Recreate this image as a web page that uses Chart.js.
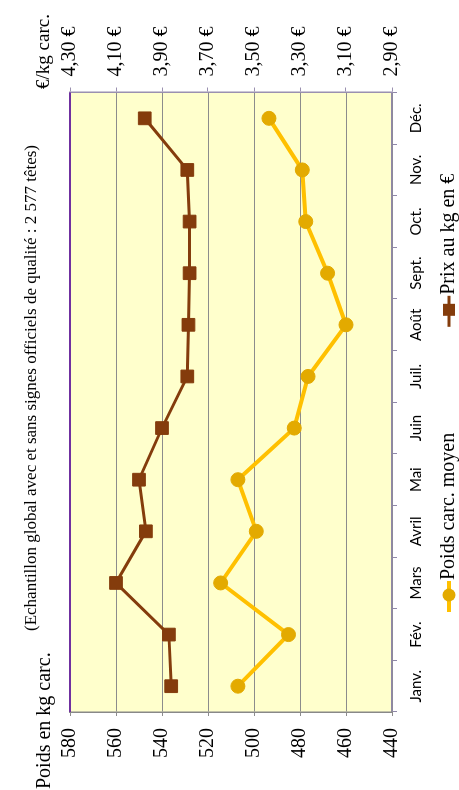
<!DOCTYPE html>
<html><head><meta charset="utf-8">
<script src="https://cdn.jsdelivr.net/npm/chart.js@4"></script>
<style>
html,body{margin:0;padding:0;background:#fff;width:459px;height:790px;overflow:hidden}
#wrap{position:absolute;left:0;top:0;width:790px;height:459px;transform-origin:0 0;transform:translate(0,790px) rotate(-90deg);}
canvas{display:block}
</style></head><body>
<div id="wrap"><canvas id="c" width="790" height="459"></canvas></div>
<script>
// ---- data ----
const months = ['Janv.','Fév.','Mars','Avril','Mai','Juin','Juil.','Août','Sept.','Oct.','Nov.','Déc.'];
const poids = [507, 485, 514.5, 499, 507, 482.5, 476.5, 460, 468, 477.5, 479, 493.5];
const prix = [3.86, 3.87, 4.10, 3.97, 4.00, 3.90, 3.79, 3.785, 3.78, 3.78, 3.79, 3.975];
const poidsTicks = [440, 460, 480, 500, 520, 540, 560, 580];
const prixTicks = [2.90, 3.10, 3.30, 3.50, 3.70, 3.90, 4.10, 4.30];
const seriesNames = ['Poids carc. moyen', 'Prix au kg en €'];
const subtitle = '(Echantillon global avec et sans signes officiels de qualité : 2 577 têtes)';
const leftTitle = 'Poids en kg carc.';
const rightTitle = '€/kg carc.';

const SERIF = '"Liberation Serif", "Times New Roman", serif';

// legend geometry (measured so that markers sit where the reference puts them)
const mctx = document.createElement('canvas').getContext('2d');
mctx.font = '20px ' + SERIF;
const tw1 = mctx.measureText(seriesNames[0]).width;
const tw2 = mctx.measureText(seriesNames[1]).width;
const M1 = 195, M2 = 480, LP = 12;
const BW = Math.round(285 - 10 - tw1 - LP);
const x1 = M1 - BW + 5;
const lineW = 2 * BW + 20 + tw1 + tw2 + 2 * LP;
const PL = 2 * x1 - LP - 790 + lineW;

function makeImg(kind, lineColor, fill, lw){
  const E = 12, W = BW + 2 * E, H = 20;
  const c = document.createElement('canvas'); c.width = W; c.height = H;
  const g = c.getContext('2d');
  const mx = BW - 5 + E;
  g.strokeStyle = lineColor; g.lineWidth = lw;
  g.beginPath(); g.moveTo(mx - 17, H/2); g.lineTo(mx + 14, H/2); g.stroke();
  g.fillStyle = fill;
  if (kind === 'circle') { g.beginPath(); g.arc(mx, H/2, 6.5, 0, Math.PI*2); g.fill(); }
  else { g.fillRect(mx - 6, H/2 - 6, 12, 12); }
  return c;
}
const legendImgs = [makeImg('circle', '#FFC000', '#E3AA00', 4), makeImg('rect', '#843C0C', '#843C0C', 3)];

const bgPlugin = {
  id: 'bgPlugin',
  beforeDraw(chart){
    const a = chart.chartArea, ctx = chart.ctx;
    ctx.save(); ctx.fillStyle = '#FFFFCC';
    ctx.fillRect(a.left, a.top, a.right - a.left, a.bottom - a.top);
    ctx.restore();
  },
  beforeDatasetsDraw(chart){
    const a = chart.chartArea, ctx = chart.ctx;
    ctx.save(); ctx.strokeStyle = '#7030A0'; ctx.lineWidth = 2;
    ctx.beginPath(); ctx.moveTo(a.left, a.top); ctx.lineTo(a.right, a.top); ctx.stroke();
    ctx.restore();
  }
};
const textPlugin = {
  id: 'textPlugin',
  afterDraw(chart){
    const ctx = chart.ctx;
    ctx.save();
    ctx.fillStyle = '#000';
    ctx.textBaseline = 'alphabetic';
    ctx.textAlign = 'left';
    ctx.font = '20px ' + SERIF;
    ctx.fillText(leftTitle, 1, 50);
    ctx.font = '19px ' + SERIF;
    ctx.fillText(rightTitle, 701, 49);
    ctx.font = '17px ' + SERIF;
    ctx.textAlign = 'center';
    ctx.fillText(subtitle, 402, 36);
    ctx.restore();
  }
};

new Chart(document.getElementById('c'), {
  type: 'line',
  data: {
    labels: months,
    datasets: [
      { label: seriesNames[0], data: poids, yAxisID: 'y',
        borderColor: '#FFC000', backgroundColor: '#E3AA00',
        pointBackgroundColor: '#E3AA00', pointBorderColor: '#E3AA00',
        borderWidth: 4, pointRadius: 7, pointBorderWidth: 1, pointStyle: 'circle', tension: 0 },
      { label: seriesNames[1], data: prix, yAxisID: 'y1',
        borderColor: '#843C0C', backgroundColor: '#843C0C',
        pointBackgroundColor: '#843C0C', pointBorderColor: '#843C0C',
        borderWidth: 3, pointRadius: 9, pointBorderWidth: 1, pointStyle: 'rect', tension: 0 }
    ]
  },
  options: {
    responsive: false,
    animation: false,
    devicePixelRatio: 1,
    layout: { padding: { top: 70, left: PL, right: 0, bottom: 0 } },
    plugins: {
      tooltip: { enabled: false },
      title: { display: false },
      legend: {
        display: true, position: 'bottom', maxHeight: 32,
        labels: {
          usePointStyle: true, pointStyleWidth: BW, padding: LP,
          color: '#000', font: { family: SERIF, size: 20 },
          generateLabels(chart){
            const items = Chart.defaults.plugins.legend.labels.generateLabels(chart);
            items.forEach((it, i) => { it.pointStyle = legendImgs[i]; });
            return items;
          }
        }
      }
    },
    scales: {
      x: {
        type: 'category', offset: true,
        grid: { offset: true, drawOnChartArea: false, drawTicks: true, tickLength: 5, color: '#9088A8' },
        border: { color: '#9088A8', width: 1.5 },
        ticks: { color: '#000', font: { family: 'Lato', size: 15 }, padding: 10, maxRotation: 0, autoSkip: false },
        afterFit(s){ s.height = 35; }
      },
      y: {
        position: 'left', min: poidsTicks[0], max: poidsTicks[poidsTicks.length - 1],
        ticks: { stepSize: poidsTicks[1] - poidsTicks[0], color: '#000', font: { family: SERIF, size: 20 }, padding: 12,
                 callback: (v) => String(v) },
        grid: { color: '#8C8C8C', lineWidth: 1, tickLength: 4 },
        border: { color: '#888888', width: 1.5 },
        afterFit(s){ s.width = 78 - PL; }
      },
      y1: {
        position: 'right', min: prixTicks[0], max: prixTicks[prixTicks.length - 1],
        ticks: { stepSize: prixTicks[1] - prixTicks[0], color: '#000', font: { family: SERIF, size: 20 }, padding: 11,
                 callback: (v) => v.toFixed(2).replace('.', ',') + ' €' },
        grid: { drawOnChartArea: false, tickLength: 5, color: '#9A90B0' },
        border: { color: '#9A90B0', width: 1.5 },
        afterFit(s){ s.width = 790 - 697.5; }
      }
    }
  },
  plugins: [bgPlugin, textPlugin]
});
</script></body></html>
